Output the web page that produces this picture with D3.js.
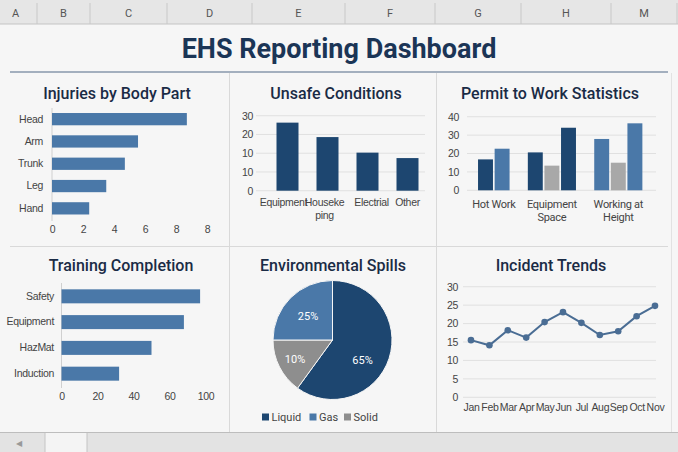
<!DOCTYPE html>
<html><head><meta charset="utf-8">
<script src="https://cdn.jsdelivr.net/npm/d3@7"></script>
<style>
html,body{margin:0;padding:0;background:#f6f6f6;}
svg{display:block;font-family:Roboto,"Noto Sans",sans-serif;}
.tick text{fill:#444;font-size:10.5px;letter-spacing:-0.3px;}
</style></head><body>
<svg id="c" width="678" height="452"></svg>
<script>
// ---------- DATA ----------
const columnLetters = ["A","B","C","D","E","F","G","H","M"];
const injuryParts = ["Head","Arm","Trunk","Leg","Hand"];
const injuryValues = [8.7, 5.55, 4.7, 3.5, 2.4];
const injuryTicks = [0,2,4,6,8,10];
const injuryTickLabels = ["0","2","4","6","8","8"];

const unsafeCats = ["Equipment","Housekeping","Electrial","Other"];
const unsafeLabelLines = [["Equipment"],["Houseke","ping"],["Electrial"],["Other"]];
const unsafeValues = [36.3, 28.6, 20.3, 17.4];
const unsafeTicks = [0,10,20,30,40];
const unsafeTickLabels = ["0","10","10","20","30"];

const permitCats = ["Hot Work","Equipment Space","Working at Height"];
const permitLabelLines = [["Hot Work"],["Equipment","Space"],["Working at","Height"]];
const permitValues = [[16.8, 22.6],[20.6, 13.4, 34.0],[27.9, 15.0, 36.4]];
const permitTicks = [0,10,20,30,40];

const trainingCats = ["Safety","Equipment","HazMat","Induction"];
const trainingValues = [77, 68, 50, 32];
const trainingTicks = [0,20,40,60,80];
const trainingTickLabels = ["0","20","40","60","100"];

const spillTypes = ["Liquid","Gas","Solid"];
const spillValues = [60, 25, 15];
const spillLabels = ["65%","25%","10%"];

const months = ["Jan","Feb","Mar","Apr","May","Jun","Jul","Aug","Sep","Oct","Nov"];
const incidentValues = [15.5, 14.1, 18.2, 16.2, 20.4, 23.1, 20.2, 16.9, 17.9, 22.0, 24.8];
const incidentTicks = [0,5,10,15,20,25,30];

// ---------- STYLES ----------
const DARK = "#1d4670", MID = "#4a78a8", GRAY = "#a8a8a8", PIEGRAY = "#8e8e8e";
const permitColors = [[DARK, MID],[DARK, GRAY, DARK],[MID, GRAY, MID]];
const spillColors = {Liquid: DARK, Gas: MID, Solid: PIEGRAY};

const svg = d3.select("#c");

// ---------- SPREADSHEET CHROME ----------
svg.append("rect").attr("x",0).attr("y",0).attr("width",678).attr("height",24).attr("fill","#e6e6e6");
svg.append("line").attr("x1",0).attr("x2",678).attr("y1",24).attr("y2",24).attr("stroke","#c4c4c4");
const colEdges = [0,37,90,167,252,345,435,521,611,677];
svg.selectAll(".coldiv").data(colEdges.slice(1)).enter().append("line")
  .attr("x1",d=>d).attr("x2",d=>d).attr("y1",3).attr("y2",24).attr("stroke","#c8c8c8");
svg.selectAll(".colL").data(columnLetters).enter().append("text")
  .attr("x",(d,i)=>(colEdges[i]+colEdges[i+1])/2 - (i===0?3:0)).attr("y",17)
  .attr("text-anchor","middle").attr("font-size",11).attr("fill","#555").text(d=>d);

// title
svg.append("text").attr("x",339).attr("y",58).attr("text-anchor","middle")
  .attr("font-size",27).attr("font-weight",700).attr("fill","#1b3556").text("EHS Reporting Dashboard");
svg.append("line").attr("x1",10).attr("x2",668).attr("y1",72).attr("y2",72).attr("stroke","#8797ab").attr("stroke-width",1.5);

// panel dividers
const div = "#d9d9d9";
svg.append("line").attr("x1",229.5).attr("x2",229.5).attr("y1",73).attr("y2",432).attr("stroke",div);
svg.append("line").attr("x1",436.5).attr("x2",436.5).attr("y1",73).attr("y2",432).attr("stroke",div);
svg.append("line").attr("x1",10).attr("x2",668).attr("y1",246.5).attr("y2",246.5).attr("stroke",div);
svg.append("line").attr("x1",671.5).attr("x2",671.5).attr("y1",73).attr("y2",432).attr("stroke","#e2e2e2");

// bottom bar
svg.append("rect").attr("x",0).attr("y",432).attr("width",678).attr("height",20).attr("fill","#e3e3e3");
svg.append("line").attr("x1",0).attr("x2",678).attr("y1",432.5).attr("y2",432.5).attr("stroke","#bdbdbd");
svg.append("rect").attr("x",45).attr("y",433).attr("width",42).attr("height",19).attr("fill","#f4f4f4");
svg.append("line").attr("x1",45).attr("x2",45).attr("y1",433).attr("y2",452).attr("stroke","#c4c4c4");
svg.append("line").attr("x1",87).attr("x2",87).attr("y1",433).attr("y2",452).attr("stroke","#c4c4c4");
svg.append("text").attr("x",16).attr("y",446).attr("font-size",8).attr("fill","#999").text("◀");

function title(x,y,t){
  svg.append("text").attr("x",x).attr("y",y).attr("text-anchor","middle")
    .attr("font-size",16).attr("font-weight",500).attr("fill","#1a2b45").text(t);
}
function cleanAxis(g){ g.select(".domain").remove(); g.selectAll(".tick line").remove(); }

// ---------- 1. Injuries by Body Part ----------
title(117,99,"Injuries by Body Part");
{
  const x = d3.scaleLinear().domain([0,10]).range([52,207]);
  const y = d3.scaleBand().domain(injuryParts).range([108,219.5]).paddingInner(0.45).paddingOuter(0.225);
  svg.append("line").attr("x1",52).attr("x2",52).attr("y1",108).attr("y2",221).attr("stroke","#d0d0d0");
  svg.selectAll(".inj").data(injuryValues).enter().append("rect")
    .attr("x",x(0)).attr("y",(d,i)=>y(injuryParts[i])).attr("width",d=>x(d)-x(0)).attr("height",y.bandwidth()).attr("fill",MID);
  const gx = svg.append("g").attr("transform","translate(0,221)")
    .call(d3.axisBottom(x).tickValues(injuryTicks).tickSize(0).tickPadding(5).tickFormat((d,i)=>injuryTickLabels[i]));
  cleanAxis(gx);
  const gy = svg.append("g").attr("transform","translate(52,0)")
    .call(d3.axisLeft(y).tickSize(0).tickPadding(9));
  cleanAxis(gy);
}

// ---------- 2. Unsafe Conditions ----------
title(336,99,"Unsafe Conditions");
{
  const y = d3.scaleLinear().domain([0,40]).range([190.7,115.7]);
  const x = d3.scaleBand().domain(unsafeCats).range([267.5,427.5]).paddingInner(0.45).paddingOuter(0.225);
  svg.selectAll(".ug").data(unsafeTicks).enter().append("line")
    .attr("x1",256).attr("x2",425).attr("y1",d=>y(d)).attr("y2",d=>y(d)).attr("stroke","#e0e0e0");
  const gy = svg.append("g").attr("transform","translate(253,0)")
    .call(d3.axisLeft(y).tickValues(unsafeTicks).tickSize(0).tickPadding(0).tickFormat((d,i)=>unsafeTickLabels[i]));
  cleanAxis(gy);
  svg.selectAll(".ub").data(unsafeValues).enter().append("rect")
    .attr("x",(d,i)=>x(unsafeCats[i])).attr("y",d=>y(d)).attr("width",x.bandwidth()).attr("height",d=>y(0)-y(d)).attr("fill",DARK);
  const gx = svg.append("g").attr("transform","translate(0,190.7)")
    .call(d3.axisBottom(x).tickSize(0).tickPadding(8).tickFormat(()=>""));
  cleanAxis(gx);
  gx.selectAll(".tick text").each(function(d,i){
    const t = d3.select(this);
    const lines = unsafeLabelLines[i];
    lines.forEach((l,k)=>t.append("tspan").attr("x", i===1?-3:(i===0?-4:(i===2?4:0))).attr("dy",k===0?"0.71em":"1.2em").text(l));
  });
}

// ---------- 3. Permit to Work Statistics ----------
title(550,99,"Permit to Work Statistics");
{
  const y = d3.scaleLinear().domain([0,40]).range([190.3,116.7]);
  const slots = [];
  permitCats.forEach((c,ci)=>{
    if(ci>0) slots.push("gap"+ci);
    permitValues[ci].forEach((v,si)=>slots.push(c+"|"+si));
  });
  const x = d3.scaleBand().domain(slots).range([477.2,643.2]).paddingInner(0.1).paddingOuter(0.05);
  svg.selectAll(".pg").data(permitTicks).enter().append("line")
    .attr("x1",467).attr("x2",656).attr("y1",d=>y(d)).attr("y2",d=>y(d)).attr("stroke","#e0e0e0");
  const gy = svg.append("g").attr("transform","translate(459,0)")
    .call(d3.axisLeft(y).tickValues(permitTicks).tickSize(0).tickPadding(0));
  cleanAxis(gy);
  const bars = [];
  permitCats.forEach((c,ci)=>permitValues[ci].forEach((v,si)=>bars.push({key:c+"|"+si,v:v,col:permitColors[ci][si]})));
  svg.selectAll(".pb").data(bars).enter().append("rect")
    .attr("x",d=>x(d.key)).attr("y",d=>y(d.v)).attr("width",x.bandwidth()).attr("height",d=>y(0)-y(d.v)).attr("fill",d=>d.col);
  permitCats.forEach((c,ci)=>{
    const n = permitValues[ci].length;
    const cx = (x(c+"|0") + x(c+"|"+(n-1)) + x.bandwidth())/2;
    const t = svg.append("text").attr("text-anchor","middle").attr("font-size",11).attr("letter-spacing","-0.3px").attr("fill","#444");
    permitLabelLines[ci].forEach((l,k)=>t.append("tspan").attr("x",cx).attr("y",208+k*13).text(l));
  });
}

// ---------- 4. Training Completion ----------
title(121,271,"Training Completion");
{
  const x = d3.scaleLinear().domain([0,80]).range([61.5,205.5]);
  const y = d3.scaleBand().domain(trainingCats).range([283.4,386.6]).paddingInner(0.457).paddingOuter(0.23);
  svg.append("line").attr("x1",61.5).attr("x2",61.5).attr("y1",283).attr("y2",388).attr("stroke","#d0d0d0");
  svg.selectAll(".tb").data(trainingValues).enter().append("rect")
    .attr("x",x(0)).attr("y",(d,i)=>y(trainingCats[i])).attr("width",d=>x(d)-x(0)).attr("height",y.bandwidth()).attr("fill",MID);
  const gx = svg.append("g").attr("transform","translate(0,389)")
    .call(d3.axisBottom(x).tickValues(trainingTicks).tickSize(0).tickPadding(4).tickFormat((d,i)=>trainingTickLabels[i]));
  cleanAxis(gx);
  const gy = svg.append("g").attr("transform","translate(54,0)")
    .call(d3.axisLeft(y).tickSize(0).tickPadding(0));
  cleanAxis(gy);
}

// ---------- 5. Environmental Spills ----------
title(333,271,"Environmental Spills");
{
  const cx = 332.5, cy = 340, r = 59.5;
  const order = [0,2,1]; // Liquid, Solid, Gas clockwise from top
  const pie = d3.pie().sort(null).value(i=>spillValues[i]);
  const arcs = pie(order);
  const arc = d3.arc().innerRadius(0).outerRadius(r);
  const g = svg.append("g").attr("transform",`translate(${cx},${cy})`);
  g.selectAll("path").data(arcs).enter().append("path")
    .attr("d",arc).attr("fill",d=>spillColors[spillTypes[d.data]]).attr("stroke","#f6f6f6").attr("stroke-width",1);
  const labelPos = {0:[30,21],1:[-24.5,-23],2:[-37.5,20]};
  g.selectAll("text").data(arcs).enter().append("text")
    .attr("x",d=>labelPos[d.data][0]).attr("y",d=>labelPos[d.data][1])
    .attr("text-anchor","middle").attr("dominant-baseline","middle")
    .attr("font-size",11).attr("fill","#fff").text(d=>spillLabels[d.data]);
  const legX = [265.5, 313, 347.5];
  const lg = svg.selectAll(".leg").data(spillTypes).enter().append("g")
    .attr("transform",(d,i)=>`translate(${legX[i]},417)`);
  lg.append("rect").attr("x",-3.5).attr("y",-3.5).attr("width",7).attr("height",7).attr("fill",d=>spillColors[d]);
  lg.append("text").attr("x",6).attr("y",4).attr("font-size",11).attr("fill","#444").text(d=>d);
}

// ---------- 6. Incident Trends ----------
title(551,271,"Incident Trends");
{
  const y = d3.scaleLinear().domain([0,30]).range([397.3,286.7]);
  const x = d3.scalePoint().domain(months).range([471,655]);
  svg.selectAll(".ig").data(incidentTicks).enter().append("line")
    .attr("x1",463).attr("x2",656).attr("y1",d=>y(d)).attr("y2",d=>y(d)).attr("stroke","#e0e0e0");
  const gy = svg.append("g").attr("transform","translate(458,0)")
    .call(d3.axisLeft(y).tickValues(incidentTicks).tickSize(0).tickPadding(0));
  cleanAxis(gy);
  const gx = svg.append("g").attr("transform","translate(0,404)")
    .call(d3.axisBottom(x).tickSize(0).tickPadding(0));
  cleanAxis(gx);
  const line = d3.line().x((d,i)=>x(months[i])).y(d=>y(d));
  svg.append("path").datum(incidentValues).attr("d",line).attr("fill","none").attr("stroke","#4a6d94").attr("stroke-width",2);
  svg.selectAll(".dot").data(incidentValues).enter().append("circle")
    .attr("cx",(d,i)=>x(months[i])).attr("cy",d=>y(d)).attr("r",3.3).attr("fill","#4a6d94");
}
</script>
</body></html>
